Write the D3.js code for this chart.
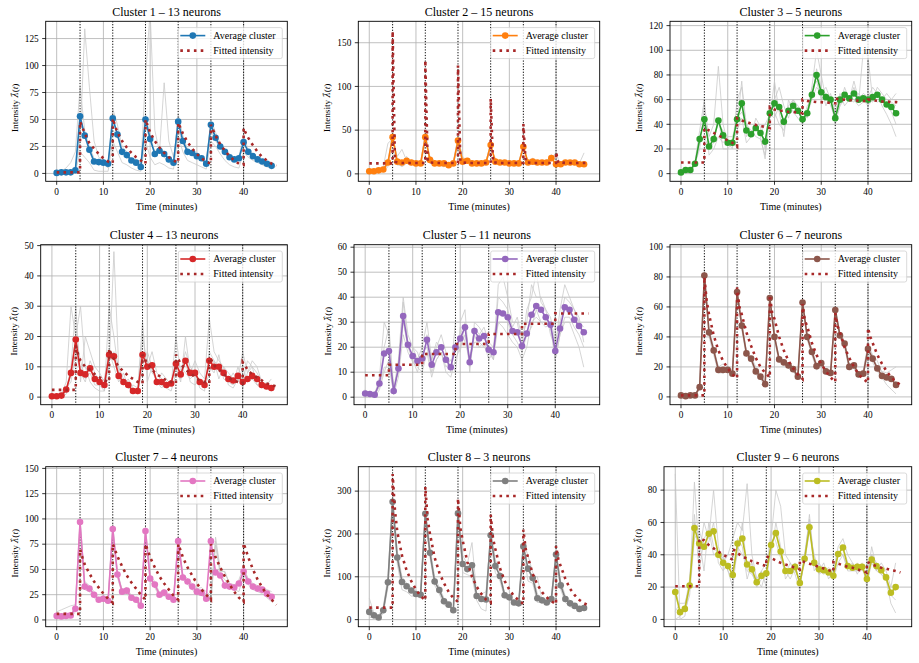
<!DOCTYPE html>
<html>
<head>
<meta charset="utf-8">
<script src="https://cdn.jsdelivr.net/npm/d3@7"></script>
<style>
  body { margin: 0; background: #fff; }
  svg { display: block; }
</style>
</head>
<body>
<div id="chart"></div>
<script>
// ---- data ----
const events = [5, 12, 19, 26, 33, 40]
const xTicks = [0, 10, 20, 30, 40]

const titles = [
  "Cluster 1 – 13 neurons", "Cluster 2 – 15 neurons", "Cluster 3 – 5 neurons",
  "Cluster 4 – 13 neurons", "Cluster 5 – 11 neurons", "Cluster 6 – 7 neurons",
  "Cluster 7 – 4 neurons", "Cluster 8 – 3 neurons", "Cluster 9 – 6 neurons"
]
const colors = ["#1f77b4", "#ff7f0e", "#2ca02c", "#d62728", "#9467bd", "#8c564b", "#e377c2", "#7f7f7f", "#bcbd22"]
const yTicks = [
  [0, 25, 50, 75, 100, 125], [0, 50, 100, 150], [0, 20, 40, 60, 80, 100, 120],
  [0, 10, 20, 30, 40, 50], [0, 10, 20, 30, 40, 50, 60], [0, 20, 40, 60, 80, 100],
  [0, 25, 50, 75, 100, 125, 150], [0, 100, 200, 300], [0, 20, 40, 60, 80]
]

// average cluster, minutes 0..46
const c1Avg = [0.5,1,1,1,3,53,35,22,11,10.5, 10,9,51,36,20,17,12,10,6,50, 32,18,21,18,13,10,48,30,20,19, 16,14,9,45,33,25,20,15,13,14, 29,20,16,13,11,9,7]
const c2Avg = [3,3,4,5,13,42,14,13,15,13, 12,12,42,16,12,12,12,10,12,38, 14,15,12,12,12,13,33,14,13,13, 12,12,12,31,13,14,13,13,13,18, 11,11,13,13,13,11,11]
const c3Avg = [1,3,3,8,28,44,22,28,43,31, 25,25,44,57,35,32,37,33,26,49, 57,54,42,51,55,51,44,49,64,80, 66,62,60,45,60,64,61,65,60,61, 60,62,64,60,56,54,49]
const c4Avg = [0.3,0.3,0.5,2.5,8,19,8,7.5,9.5,6, 5,4,14,13.5,7,5,4,2,2,14, 10,10.5,5,5,4,4.5,11,7.5,12,8, 8,5,4,12,10,10,8,6,5.5,7, 5,6,7,6,4,3.5,3]
const c5Avg = [1.5,1.3,1,5.5,17.5,18.5,2.5,11.5,32.5,21, 16.5,14.5,15.5,23,13,18,20,15,12,20, 23.5,28,14,26.5,23.5,24.5,19,18,34,33.5, 32,26.5,26,20.5,25.5,33,36.5,35,32,29, 18.5,27.5,36,35,31,28.5,26]
const c6Avg = [1,0.5,1,1,6.5,81,43,31,18,18, 18,15.5,70,47.5,29,25.5,17,13.5,8.5,66, 40,25,23,21,18.5,13.5,63,40,30,20.5, 22.5,17,16,58,41,35.5,20,21,15,15.5, 32,25.5,19,14,13,12,8]
const c7Avg = [4,3.5,4,4.5,11,97,33,31,25,20, 21,19,90,45,28,29,22,20,14,88, 41,35,25,27,23,20,78,42,38,33, 28,27,21,78,47,44,34,33,32,36, 48,38,33,31,30,26,23]
const c8Avg = [18,10,5,22,87,275,145,88,78,68, 60,58,247,156,89,69,43,35,22,248, 130,118,127,55,48,47,197,125,102,57, 52,40,38,171,119,97,50,45,40,48, 152,80,48,38,32,25,27]
const c9Avg = [17,4.5,6.5,21,56.5,47,45,53,54.5,40, 35,33,27.5,47,50,34,31,23,27,28.5, 46,53.5,42,30,30,32.5,22.5,37.5,57,35, 31,30.5,29,27,40.5,44.5,33,32,32.5,32.5, 25,37,33,30.5,26,16.5,20]

// fitted intensity, minutes 0..47 (value just before the jump at event minutes)
const c1Fit = [1,1,1,1,1,1,37,28,23,18, 14,11,9.5,38,30,24,19,15,12,9, 38,30,24,19,15,12,10,37,29,23, 18,14,11,9,35,27,21,16,12,9, 8,33,26,20,15,12,9,7]
const c2Fit = [12,12,12,12,12,12,13,12.5,12.5,12.5, 12.5,12.5,12.5,13,12.5,12.5,12.5,12.5,12.5,12.5, 13,12.5,12.5,12.5,12.5,12.5,12.5,13,12.5,12.5, 12.5,12.5,12.5,12.5,13,12.5,12.5,12.5,12.5,12.5, 12.5,13,12.5,12.5,12.5,12.5,12.5,12.5]
const c3Fit = [9,9,9,9,9,9,35,33,31,29, 27,25,22,43,42,40.5,39.5,38.5,38,37, 52,51,51,50,50,49.5,49,59,58.5,58, 58,57.5,57.5,57,60,60,59.5,59.5,59,59, 58.5,59.5,59,58.5,58.5,58,58,57.5]
const c4Fit = [2.4,2.4,2.4,2.4,2.4,2.4,12,10,9,7.5, 6.5,5.5,5,12.5,10,8.5,7,6,5,4.5, 11,9,7.5,6.5,5.5,5,4.5,11,9,8, 6.5,5.5,5,4.5,10.5,9,7.5,6.5,5.5,5, 4.5,9,7.5,6.5,5.5,4.5,4,3.5]
const c5Fit = [8.8,8.8,8.8,8.8,8.8,8.8,13,13,13,13, 13,13,13,17.3,17.3,17.3,17.3,17.3,17.3,17.3, 21.3,21.3,21.3,21.3,21.3,21.3,21.3,25.3,25.3,25.3, 25.3,25.3,25.3,25.3,29.4,29.4,29.4,29.4,29.4,29.4, 29.4,33.5,33.5,33.5,33.5,33.5,33.5,33.5]
const c6Fit = [1,1,1,1,1,1,55,41,31,24, 19,15,12.5,55,43,34,26,20,16,13, 52,40,31,24,19,15,12,47,36,28, 22,17,13,10,43,33,26,20,15,12, 9.5,36,28,22,17,13,10,8]
const c7Fit = [6,6,6,6,6,6,55,46,38,32, 26,21,17,63,53,44,37,31,25,20, 62,52,43,36,30,24,20,62,52,44, 36,30,25,20,62,52,43,35,28,22, 18,62,50,40,32,25,20,15]
const c8Fit = [28,28,28,28,28,28,205,150,115,90, 70,55,45,200,145,110,85,65,50,42, 185,135,100,77,60,47,40,165,120,90, 70,55,45,37,145,107,82,64,52,43, 36,125,95,72,57,46,38,33]
const c9Fit = [20.5,20.5,20.5,20.5,20.5,20.5,49,46,44,42, 40,38.5,37,41,39,37.5,36,35,34,33, 38,36.5,35,34,33,32,31,35.5,34.5,33.5, 32.5,31.5,30.5,29.5,34.5,33.5,32.5,32,31,30, 29,34,33,32,31.5,30.5,30,29]

// fitted value right after each jump, and half a minute later
const c1Peak = [48,51,50,47,45,42], c1Mid = [43,44,44,42,40,37]
const c2Peak = [163,130,124,86,57,25], c2Mid = [14,14,14,13,13,12.5]
const c3Peak = [37,45,54,60,61,60], c3Mid = [36,44,53,59.5,60.5,60]
const c4Peak = [17,16,14,14,13,11.5], c4Mid = [14,14,12.5,12.5,12,10.5]
const c5Peak = [13,17.5,21.3,25.3,29.4,33.6], c5Mid = [13,17.3,21.3,25.3,29.4,33.5]
const c6Peak = [80,73,68,62,56,46], c6Mid = [64,60,56,51,47,40]
const c7Peak = [70,75,75,75,75,76], c7Mid = [62,69,69,69,69,69]
const c8Peak = [340,310,283,245,210,172], c8Mid = [255,235,215,190,165,140]
const c9Peak = [50,43.5,39,36.5,35.5,35.5], c9Mid = [49.5,42.5,38.5,36,35,35]

// a few of the individual neurons (grey), minutes 0..46
const c1Neurons = [
  [0,0,0,1,4,30,134,80,30,15, 12,10,40,35,20,15,12,10,5,90, 150,40,20,84,30,15,40,28,20,18, 15,12,8,40,30,24,18,14,12,12, 30,20,16,12,10,8,7],
  [0,2,5,10,20,80,40,20,10,8, 9,5,60,45,25,20,12,8,5,45, 30,20,22,15,10,8,55,35,22,20, 18,15,10,50,38,28,22,18,14,16, 35,22,18,14,12,10,8],
  [0,0,1,2,3,45,38,25,14,12, 10,8,48,38,22,18,14,12,8,55, 35,20,24,20,14,12,50,32,22,20, 17,15,10,48,35,26,21,16,14,15, 28,21,17,14,12,10,8],
  [0,0,0,0,1,20,15,10,3,2, 2,2,30,20,10,8,5,3,2,30, 15,8,10,8,5,4,35,20,12,10, 8,6,4,30,25,18,12,8,6,5, 20,15,12,10,8,6,5]
]
const c2Neurons = [
  [2,3,5,8,35,40,20,28,15,12, 12,10,35,20,15,12,10,8,12,40, 20,14,15,12,10,12,30,18,12,14, 12,10,12,28,15,16,12,14,12,22, 15,10,12,14,12,10,10],
  [5,4,3,5,10,30,10,10,20,12, 10,14,45,12,10,14,12,10,10,35, 12,18,10,14,12,14,36,12,14,12, 14,12,10,35,10,12,14,12,14,15, 25,8,15,12,14,12,24],
  [3,3,4,4,8,50,12,8,12,10, 14,12,40,15,12,10,8,12,14,42, 16,12,14,10,14,12,30,15,12,14, 10,14,12,30,14,12,10,14,12,20, 8,14,12,10,12,10,8],
  [2,2,3,6,15,45,15,12,14,16, 10,10,48,18,14,12,10,10,12,38, 12,16,12,12,10,14,35,14,16,12, 12,12,14,32,12,18,14,12,16,18, 12,12,14,14,12,12,12]
]
const c3Neurons = [
  [0,2,4,8,20,55,30,40,87,40, 25,20,60,70,40,30,45,38,20,50, 60,70,55,45,60,55,50,45,70,100, 80,60,60,40,55,70,60,75,60,65, 62,70,65,60,55,50,40],
  [1,3,2,10,35,60,15,20,30,25, 30,30,40,75,30,35,30,28,15,45, 75,50,30,60,50,45,40,55,60,85, 70,55,65,50,65,55,60,58,65,60, 55,60,58,60,65,60,65],
  [0,4,3,6,25,30,20,25,45,20, 20,25,35,45,25,30,40,30,12,55, 50,40,35,55,60,50,45,50,70,75, 60,65,55,45,55,60,62,60,55,58, 60,58,65,55,48,40,30],
  [2,3,3,8,30,40,25,30,40,35, 25,22,45,50,40,35,35,33,40,48, 45,55,40,50,55,52,40,48,60,70, 65,70,60,48,62,65,60,70,58,100, 95,60,70,65,60,58,55]
]
const c4Neurons = [
  [0,0,1,5,30,20,30,10,5,3, 2,2,30,20,8,5,3,2,1,10, 15,10,5,3,5,4,20,8,15,10, 8,3,2,15,12,10,8,5,4,10, 5,12,10,8,5,3,2],
  [0,1,0,2,10,30,5,20,15,10, 8,5,10,48,10,4,6,3,2,20, 10,15,8,6,3,5,10,5,20,8, 12,8,6,26,15,12,10,8,6,8, 3,8,12,10,5,4,6],
  [1,0,1,3,5,15,8,5,12,8, 5,6,15,10,5,8,3,4,3,25, 5,10,4,8,6,4,12,10,8,6, 8,4,5,10,8,14,6,5,8,5, 10,5,6,4,3,5,3],
  [0,0,0,1,8,20,12,6,8,4, 4,2,12,15,10,6,5,2,2,15, 12,8,6,4,3,2,8,6,12,5, 4,6,3,8,12,6,10,4,3,6, 15,8,10,4,5,3,2]
]
const c5Neurons = [
  [0,2,1,8,30,25,3,15,40,25, 20,15,20,30,15,20,25,18,10,30, 30,35,10,30,28,25,20,15,45,48, 40,30,30,20,35,40,50,38,35,25, 20,35,45,40,35,30,28],
  [2,1,0,3,10,15,1,8,25,18, 14,12,10,18,8,15,18,10,8,15, 20,25,12,25,20,22,15,18,30,28, 25,22,20,15,20,30,32,30,28,30, 15,25,30,30,25,20,12],
  [3,1,2,5,20,28,4,10,38,22, 20,18,12,25,15,22,20,15,12,22, 18,30,15,28,25,28,22,20,40,38, 35,28,32,24,30,45,40,40,35,32, 22,30,40,38,35,32,22],
  [1,2,1,4,12,12,2,12,30,20, 15,10,18,20,10,15,18,12,15,10, 28,22,16,22,22,20,18,15,30,30, 30,25,22,18,25,28,35,30,30,28, 15,25,32,32,28,25,20]
]
const c6Neurons = [
  [0,1,1,1,8,85,45,33,20,18, 18,16,72,50,30,26,18,14,9,68, 42,26,24,22,20,14,65,42,32,22, 24,18,17,60,43,37,22,22,16,16, 34,27,20,17,16,18,20],
  [1,0,1,1,5,78,40,28,16,16, 17,14,68,45,27,24,15,12,7,63, 38,23,22,19,17,12,60,38,28,18, 20,15,14,55,39,33,18,19,13,14, 30,23,17,13,8,5,2],
  [1,1,0,2,7,82,44,30,20,22, 20,18,70,48,30,27,20,15,10,66, 41,25,24,22,19,15,64,41,31,21, 23,18,16,58,42,36,21,22,16,18, 35,28,24,16,14,12,10]
]
const c7Neurons = [
  [8,10,12,14,15,100,38,34,28,22, 24,21,95,48,30,32,24,22,16,92, 44,38,27,30,25,22,82,45,41,36, 31,32,28,24,82,50,47,36,35,35, 50,41,36,34,32,30,28],
  [2,2,2,2,8,92,30,28,22,18, 19,16,85,42,26,26,20,18,12,84, 38,32,23,24,21,18,74,40,35,30, 25,24,22,18,74,44,40,32,30,28, 45,35,30,28,26,22,18],
  [5,4,5,6,12,98,36,32,26,20, 22,20,90,46,29,30,22,20,15,88, 42,36,26,27,24,20,78,42,38,34, 29,28,26,22,78,48,48,35,34,40, 52,40,34,32,32,28,25]
]
const c8Neurons = [
  [50,15,10,30,100,290,160,100,85,75, 65,60,260,170,100,75,50,40,25,255, 150,130,180,60,55,50,210,140,110,60, 55,45,40,180,150,110,60,50,45,55, 160,90,55,45,35,30,30],
  [5,5,0,15,75,260,130,70,65,55, 55,50,235,145,80,60,35,30,20,240, 110,105,100,45,25,20,185,110,90,50, 48,35,32,160,90,85,40,40,35,40, 145,70,40,30,28,20,25],
  [10,10,5,20,85,275,145,95,80,70, 60,62,245,155,87,70,45,35,22,248, 130,120,110,60,60,65,195,125,105,60, 52,40,40,172,120,100,100,45,40,48, 150,80,48,40,33,26,28]
]
const c9Neurons = [
  [90,0,2,20,85,40,60,50,80,45, 35,40,50,60,55,84,40,25,30,20, 50,80,70,40,35,30,25,35,65,35, 30,35,25,30,45,50,40,35,30,35, 20,40,35,30,25,10,4],
  [5,10,10,20,60,50,30,60,45,40, 38,30,20,45,40,35,30,20,25,30, 40,60,45,25,30,35,20,40,60,30, 35,30,28,25,35,40,30,30,35,30, 30,40,30,35,30,20,35],
  [20,5,5,15,50,55,45,48,60,35, 30,35,30,40,60,30,28,22,30,35, 45,55,40,30,25,32,22,35,55,40, 30,28,30,25,40,45,35,30,30,32, 25,45,32,28,25,15,12],
  [0,2,8,25,65,30,50,55,40,42, 40,30,25,50,45,25,35,25,20,30, 55,48,38,28,35,28,18,40,62,35, 28,30,32,30,42,40,32,35,28,34, 22,35,30,28,24,18,18]
]

const clusters = [
  { avg: c1Avg, fit: c1Fit, peak: c1Peak, mid: c1Mid, neurons: c1Neurons },
  { avg: c2Avg, fit: c2Fit, peak: c2Peak, mid: c2Mid, neurons: c2Neurons },
  { avg: c3Avg, fit: c3Fit, peak: c3Peak, mid: c3Mid, neurons: c3Neurons },
  { avg: c4Avg, fit: c4Fit, peak: c4Peak, mid: c4Mid, neurons: c4Neurons },
  { avg: c5Avg, fit: c5Fit, peak: c5Peak, mid: c5Mid, neurons: c5Neurons },
  { avg: c6Avg, fit: c6Fit, peak: c6Peak, mid: c6Mid, neurons: c6Neurons },
  { avg: c7Avg, fit: c7Fit, peak: c7Peak, mid: c7Mid, neurons: c7Neurons },
  { avg: c8Avg, fit: c8Fit, peak: c8Peak, mid: c8Mid, neurons: c8Neurons },
  { avg: c9Avg, fit: c9Fit, peak: c9Peak, mid: c9Mid, neurons: c9Neurons }
]

// ---- layout ----
const width = 919, height = 663
const lefts = [45.7, 358.3, 670, 40.7, 354, 670, 45.7, 358.3, 664]
const rights = [287.3, 599.7, 911.7]
const tops = [21.3, 244.7, 466.7]
const panelH = 160
const yDomains = [[-7.3, 141], [-8.5, 174.5], [-6.2, 123.5], [-2.5, 50.3], [-3, 61], [-5.2, 101.5], [-6.7, 151.7], [-16.5, 357], [-4.5, 94.5]]
const xDomain = [-2.35, 49.35]
const fitColor = "#a82828"
const serif = "Liberation Serif"

const svg = d3.select("#chart").append("svg")
  .attr("width", width)
  .attr("height", height)
  .attr("font-family", serif)

clusters.forEach((c, i) => {
  const col = i % 3, row = Math.floor(i / 3)
  const x0 = lefts[i], x1 = rights[col]
  const y0 = tops[row], y1 = y0 + panelH

  const xScale = d3.scaleLinear().domain(xDomain).range([x0, x1])
  const yScale = d3.scaleLinear().domain(yDomains[i]).range([y1, y0])

  const panel = svg.append("g").attr("class", "panel")

  svg.append("clipPath").attr("id", "clip" + i)
    .append("rect").attr("x", x0).attr("y", y0).attr("width", x1 - x0).attr("height", panelH)

  // grid
  panel.append("g").selectAll("line").data(xTicks).join("line")
    .attr("x1", d => xScale(d)).attr("x2", d => xScale(d))
    .attr("y1", y0).attr("y2", y1)
    .attr("stroke", "#b0b0b0").attr("stroke-width", 0.8)
  panel.append("g").selectAll("line").data(yTicks[i]).join("line")
    .attr("x1", x0).attr("x2", x1)
    .attr("y1", d => yScale(d)).attr("y2", d => yScale(d))
    .attr("stroke", "#b0b0b0").attr("stroke-width", 0.8)

  const plot = panel.append("g").attr("clip-path", `url(#clip${i})`)

  const line = d3.line()
    .x((d, k) => xScale(k))
    .y(d => yScale(d))

  // individual neurons
  plot.selectAll("path.neuron").data(c.neurons).join("path")
    .attr("class", "neuron")
    .attr("d", line)
    .attr("fill", "none")
    .attr("stroke", "#c8c8c8")
    .attr("stroke-width", 0.9)
    .attr("opacity", 0.85)

  // stimulus times
  plot.selectAll("line.event").data(events).join("line")
    .attr("class", "event")
    .attr("x1", d => xScale(d)).attr("x2", d => xScale(d))
    .attr("y1", y0).attr("y2", y1)
    .attr("stroke", "#000").attr("stroke-width", 1)
    .attr("stroke-dasharray", "1.2,1.6")

  // average cluster
  plot.append("path")
    .attr("d", line(c.avg))
    .attr("fill", "none")
    .attr("stroke", colors[i])
    .attr("stroke-width", 1.6)
  plot.selectAll("circle").data(c.avg).join("circle")
    .attr("cx", (d, k) => xScale(k))
    .attr("cy", d => yScale(d))
    .attr("r", 3.3)
    .attr("fill", colors[i])

  // fitted intensity
  const fitPts = []
  c.fit.forEach((v, t) => {
    fitPts.push([t, v])
    const e = events.indexOf(t)
    if (e >= 0) {
      fitPts.push([t, c.peak[e]])
      fitPts.push([t + 0.5, c.mid[e]])
    }
  })
  plot.append("path")
    .attr("d", d3.line().x(d => xScale(d[0])).y(d => yScale(d[1]))(fitPts))
    .attr("fill", "none")
    .attr("stroke", fitColor)
    .attr("stroke-width", 2.6)
    .attr("stroke-dasharray", "2.6,4.2")

  // frame
  panel.append("rect")
    .attr("x", x0).attr("y", y0).attr("width", x1 - x0).attr("height", panelH)
    .attr("fill", "none").attr("stroke", "#000").attr("stroke-width", 0.9)

  // x axis
  const xAxis = panel.append("g")
  xAxis.selectAll("line").data(xTicks).join("line")
    .attr("x1", d => xScale(d)).attr("x2", d => xScale(d))
    .attr("y1", y1).attr("y2", y1 + 3.5)
    .attr("stroke", "#000").attr("stroke-width", 0.8)
  xAxis.selectAll("text").data(xTicks).join("text")
    .attr("x", d => xScale(d)).attr("y", y1 + 13.6)
    .attr("text-anchor", "middle").attr("font-size", 9.3)
    .text(d => d)
  panel.append("text")
    .attr("x", (x0 + x1) / 2).attr("y", y1 + 28.5)
    .attr("text-anchor", "middle").attr("font-size", 10)
    .text("Time (minutes)")

  // y axis
  const yAxis = panel.append("g")
  yAxis.selectAll("line").data(yTicks[i]).join("line")
    .attr("x1", x0 - 3.5).attr("x2", x0)
    .attr("y1", d => yScale(d)).attr("y2", d => yScale(d))
    .attr("stroke", "#000").attr("stroke-width", 0.8)
  const yLabels = yAxis.selectAll("text").data(yTicks[i]).join("text")
    .attr("x", x0 - 7).attr("y", d => yScale(d) + 3.2)
    .attr("text-anchor", "end").attr("font-size", 9.3)
    .text(d => d)
  let maxW = 0
  yLabels.each(function () { maxW = Math.max(maxW, this.getComputedTextLength()) })

  const ly = (y0 + y1) / 2 + 6.5
  const lx = x0 - 7 - maxW - 7
  const ylab = panel.append("text")
    .attr("transform", `translate(${lx},${ly}) rotate(-90)`)
    .attr("text-anchor", "middle").attr("font-size", 9.2)
  ylab.append("tspan").text("Intensity ")
  ylab.append("tspan").attr("font-family", "DejaVu Serif").attr("font-style", "italic")
    .attr("font-size", 8.4).text("λ\u0302")
  ylab.append("tspan").text("(")
  ylab.append("tspan").attr("font-style", "italic").text("t")
  ylab.append("tspan").text(")")

  // title
  panel.append("text")
    .attr("x", (x0 + x1) / 2).attr("y", y0 - 5.7)
    .attr("text-anchor", "middle").attr("font-size", 12)
    .text(titles[i])

  // legend
  const lgX = x1 - 109, lgY = y0 + 6.3
  const legend = panel.append("g")
  legend.append("rect")
    .attr("x", lgX).attr("y", lgY).attr("width", 104).attr("height", 31)
    .attr("rx", 2)
    .attr("fill", "#fff").attr("fill-opacity", 0.8)
    .attr("stroke", "#d0d0d0").attr("stroke-width", 0.8)
  const r1 = lgY + 8, r2 = lgY + 23
  legend.append("line")
    .attr("x1", lgX + 2).attr("x2", lgX + 27).attr("y1", r1).attr("y2", r1)
    .attr("stroke", colors[i]).attr("stroke-width", 1.6)
  legend.append("circle")
    .attr("cx", lgX + 14.5).attr("cy", r1).attr("r", 3.3).attr("fill", colors[i])
  legend.append("line")
    .attr("x1", lgX + 2).attr("x2", lgX + 27).attr("y1", r2).attr("y2", r2)
    .attr("stroke", fitColor).attr("stroke-width", 2.6)
    .attr("stroke-dasharray", "2.6,4.2")
  legend.append("text")
    .attr("x", lgX + 35).attr("y", r1 + 3.4).attr("font-size", 10)
    .text("Average cluster")
  legend.append("text")
    .attr("x", lgX + 35).attr("y", r2 + 3.4).attr("font-size", 10)
    .text("Fitted intensity")
})
</script>
</body>
</html>
